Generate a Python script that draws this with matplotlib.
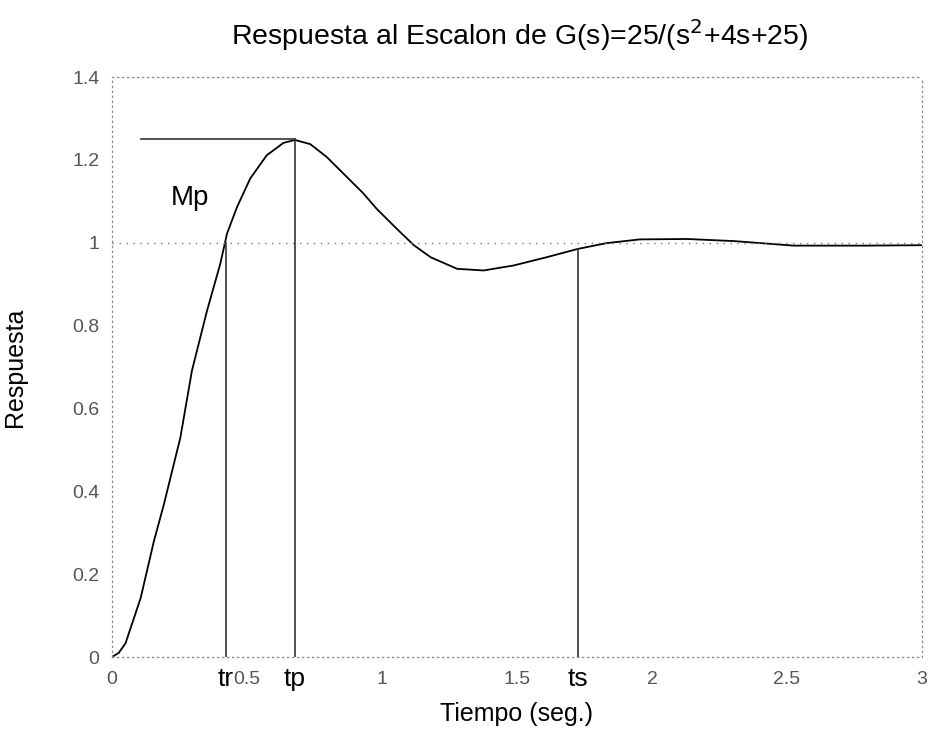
import matplotlib
matplotlib.use("Agg")
import matplotlib.pyplot as plt
import matplotlib.transforms as mtransforms

# Step response
t_vals = [0, 0.025, 0.050, 0.106, 0.155, 0.192, 0.253, 0.296, 0.352, 0.401, 0.426,
          0.463, 0.512, 0.573, 0.600, 0.635, 0.678, 0.734, 0.760, 0.795, 0.857,
          0.931, 0.980, 1.054, 1.118, 1.180, 1.278, 1.376, 1.487, 1.610, 1.725,
          1.832, 1.955, 2.129, 2.302, 2.524, 2.795, 3.0]
y_vals = [0, 0.010, 0.033, 0.142, 0.279, 0.368, 0.529, 0.691, 0.836, 0.949, 1.022,
          1.086, 1.155, 1.211, 1.224, 1.241, 1.248, 1.238, 1.225, 1.207, 1.167,
          1.119, 1.082, 1.034, 0.994, 0.965, 0.937, 0.933, 0.945, 0.965, 0.985,
          0.999, 1.008, 1.009, 1.004, 0.993, 0.993, 0.994]

# Characteristic points
t_r, y_r = 0.422, 1.0
t_p, y_p = 0.678, 1.25
t_s, y_s = 1.725, 0.985
mp_start = 0.106

x_ticks = [0, 0.5, 1, 1.5, 2, 2.5, 3]
x_tick_labels = ["0", "0.5", "1", "1.5", "2", "2.5", "3"]
y_ticks = [0, 0.2, 0.4, 0.6, 0.8, 1, 1.2, 1.4]
y_tick_labels = ["0", "0.2", "0.4", "0.6", "0.8", "1", "1.2", "1.4"]
marker_labels = ["tr", "tp", "ts"]

plt.rcParams['font.family'] = ['Liberation Sans', 'DejaVu Sans']

fig = plt.figure(figsize=(9.31, 7.44), dpi=100)
ax = fig.add_axes([112 / 931, 1 - 657 / 744, 810 / 931, 580 / 744])

ax.plot(t_vals, y_vals, color='black', lw=1.3, solid_joinstyle='round')

# reference line at 1
ax.axhline(1.0, color='#777777', lw=1.0, ls=(0, (1, 4)))

# marker lines
lc = '#333333'
ax.plot([mp_start, t_p], [y_p, y_p], color=lc, lw=1.2)
ax.plot([t_r, t_r], [0, y_r], color=lc, lw=1.2)
ax.plot([t_p, t_p], [0, y_p], color=lc, lw=1.2)
ax.plot([t_s, t_s], [0, y_s], color=lc, lw=1.2)

ax.text(0.29, 1.107, "Mp", fontsize=20, ha='center', va='center')

ax.set_xlim(0, 3)
ax.set_ylim(0, 1.4)
ax.set_xticks(x_ticks)
ax.set_xticklabels(x_tick_labels)
ax.set_yticks(y_ticks)
ax.set_yticklabels(y_tick_labels)
ax.tick_params(length=0, labelsize=14, colors='#555555')
ax.tick_params(axis='x', pad=10)
ax.tick_params(axis='y', pad=9)

trans = mtransforms.blended_transform_factory(ax.transData, ax.transAxes)
for tx, lab in zip([t_r, t_p, t_s], marker_labels):
    ax.text(tx, -0.018, lab, transform=trans, fontsize=19, ha='center', va='top')

for s in ax.spines.values():
    s.set_color('#888888')
    s.set_linewidth(0.9)
    s.set_linestyle((0, (1, 3)))

fig.text(520 / 931, 1 - 35 / 744, "Respuesta al Escalon de G(s)=25/(s$^2$+4s+25)",
         fontsize=20.5, ha='center', va='center')
ax.set_xlabel("Tiempo (seg.)", fontsize=18)
ax.set_ylabel("Respuesta", fontsize=18)
ax.xaxis.set_label_coords(0.5, -0.077)
ax.yaxis.set_label_coords(-0.105, 0.5)

fig.savefig("out.png", dpi=100, facecolor='white')
